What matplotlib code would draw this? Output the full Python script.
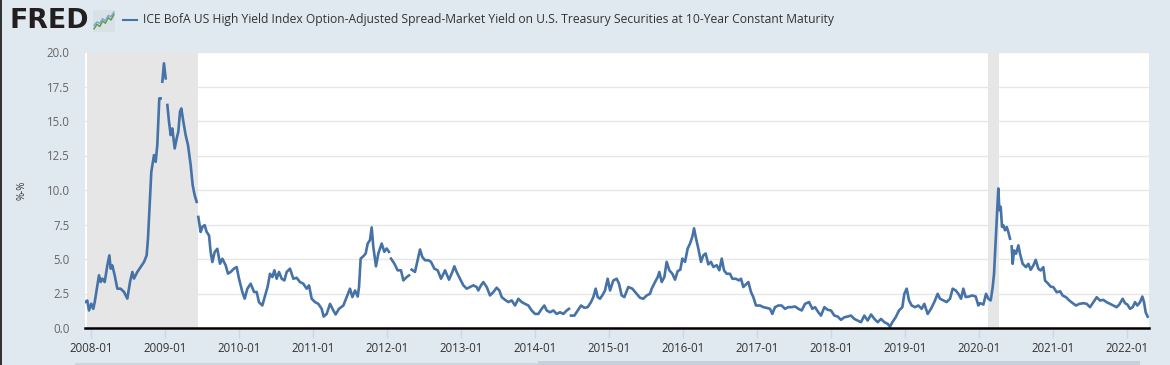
import numpy as np
import matplotlib
matplotlib.use("Agg")
import matplotlib.pyplot as plt
from matplotlib.lines import Line2D
from matplotlib.patches import Rectangle

nan = np.nan

# decimal year, spread (%); nan = missing obs (gap in line)
years = [
    2007.919, 2007.950, 2007.973, 2008.004, 2008.031, 2008.050, 2008.086, 2008.108, 2008.131, 2008.153,
    2008.185, 2008.221, 2008.248, 2008.266, 2008.288, 2008.320, 2008.356, 2008.401, 2008.446, 2008.491,
    2008.527, 2008.559, 2008.581, 2008.626, 2008.671, 2008.716, 2008.752, 2008.770, 2008.793, 2008.815,
    2008.851, 2008.874, 2008.896, 2008.923, 2008.941, 2008.950, 2008.964, 2008.986, 2009.009, 2009.020,
    2009.032, 2009.054, 2009.077, 2009.099, 2009.131, 2009.158, 2009.180, 2009.203, 2009.221, 2009.248,
    2009.279, 2009.311, 2009.347, 2009.374, 2009.401, 2009.428, 2009.436, 2009.450, 2009.482, 2009.505,
    2009.536, 2009.563, 2009.595, 2009.617, 2009.640, 2009.671, 2009.707, 2009.743, 2009.775, 2009.820,
    2009.851, 2009.887, 2009.932, 2009.968, 2010.000, 2010.045, 2010.077, 2010.113, 2010.158, 2010.203,
    2010.239, 2010.270, 2010.315,
    2010.387, 2010.419, 2010.451, 2010.478, 2010.509, 2010.541, 2010.577, 2010.613, 2010.644, 2010.689,
    2010.734, 2010.779, 2010.824, 2010.869, 2010.914, 2010.946, 2010.982, 2011.027, 2011.072, 2011.117,
    2011.144, 2011.185, 2011.230, 2011.275, 2011.306, 2011.351, 2011.410, 2011.455, 2011.500, 2011.532,
    2011.568, 2011.604, 2011.622, 2011.644, 2011.680, 2011.712, 2011.739, 2011.770, 2011.793, 2011.815,
    2011.851, 2011.883, 2011.928, 2011.964, 2011.995, 2012.027, 2012.040, 2012.054, 2012.099, 2012.144,
    2012.189, 2012.221, 2012.266, 2012.297, 2012.315, 2012.333, 2012.378, 2012.414, 2012.446, 2012.477,
    2012.514, 2012.559, 2012.595, 2012.640, 2012.685, 2012.730, 2012.775,
    2012.784, 2012.838, 2012.883, 2012.910, 2012.941, 2012.986, 2013.032, 2013.077, 2013.122, 2013.167,
    2013.212, 2013.234, 2013.270, 2013.302, 2013.347, 2013.392, 2013.437, 2013.482, 2013.518, 2013.550,
    2013.595, 2013.640, 2013.685, 2013.730, 2013.775, 2013.820, 2013.865, 2013.910, 2013.955, 2014.000,
    2014.045, 2014.090, 2014.126, 2014.158, 2014.203, 2014.248, 2014.293, 2014.338, 2014.383, 2014.428,
    2014.459, 2014.472, 2014.486, 2014.532, 2014.577, 2014.622, 2014.667, 2014.712, 2014.757, 2014.788,
    2014.820, 2014.847, 2014.878, 2014.910, 2014.946, 2014.982, 2015.014, 2015.059, 2015.104, 2015.135,
    2015.171, 2015.207,
    2015.216, 2015.261, 2015.315, 2015.374, 2015.419, 2015.464, 2015.509, 2015.554, 2015.577, 2015.622,
    2015.658, 2015.680, 2015.712, 2015.748, 2015.779, 2015.815, 2015.856, 2015.892, 2015.928, 2015.964,
    2015.991, 2016.027, 2016.063, 2016.095, 2016.126, 2016.149, 2016.176, 2016.207, 2016.243, 2016.275,
    2016.306, 2016.342, 2016.378, 2016.410, 2016.455, 2016.491, 2016.523, 2016.554, 2016.590, 2016.635,
    2016.667, 2016.712, 2016.757, 2016.784, 2016.815, 2016.860, 2016.883, 2016.919, 2016.950, 2016.986,
    2017.041, 2017.086, 2017.131, 2017.176, 2017.207, 2017.243, 2017.288, 2017.333, 2017.378, 2017.423,
    2017.468, 2017.514, 2017.559, 2017.604,
    2017.649, 2017.703, 2017.748, 2017.784, 2017.829, 2017.865, 2017.910, 2017.955, 2018.000, 2018.045,
    2018.090, 2018.135, 2018.180, 2018.225, 2018.270, 2018.315, 2018.360, 2018.405, 2018.450, 2018.495,
    2018.541, 2018.586, 2018.631, 2018.676, 2018.721, 2018.766, 2018.797, 2018.829, 2018.874, 2018.919,
    2018.964, 2018.991, 2019.023, 2019.054, 2019.090, 2019.135, 2019.180, 2019.225, 2019.261, 2019.306,
    2019.351, 2019.396, 2019.441, 2019.473, 2019.518, 2019.563, 2019.608, 2019.644, 2019.685, 2019.721,
    2019.757, 2019.788, 2019.820, 2019.865, 2019.910, 2019.955, 2019.991,
    2020.014, 2020.059, 2020.095, 2020.126, 2020.158, 2020.185, 2020.203, 2020.225, 2020.248, 2020.261,
    2020.275, 2020.293, 2020.311, 2020.329, 2020.351, 2020.374, 2020.396, 2020.419, 2020.430, 2020.441,
    2020.455, 2020.473, 2020.500, 2020.532, 2020.554, 2020.590, 2020.635, 2020.667, 2020.698, 2020.734,
    2020.766, 2020.802, 2020.833, 2020.869, 2020.892, 2020.937, 2020.968, 2021.005, 2021.050, 2021.095,
    2021.131, 2021.176, 2021.221, 2021.266, 2021.311, 2021.356, 2021.410, 2021.455, 2021.500, 2021.545,
    2021.590, 2021.635, 2021.680, 2021.725, 2021.770, 2021.815, 2021.860, 2021.896, 2021.941, 2021.973,
    2022.005, 2022.041, 2022.077, 2022.108, 2022.140, 2022.176, 2022.207, 2022.230, 2022.252, 2022.279,
]
spread = [
    1.87, 1.99, 1.27, 1.76, 1.39, 1.87, 3.09, 3.82, 3.33, 3.58,
    3.33, 4.54, 5.26, 4.30, 4.54, 3.82, 2.85, 2.85, 2.61, 2.13,
    3.33, 4.06, 3.58, 4.06, 4.42, 4.78, 5.26, 6.47, 8.89, 11.31,
    12.53, 12.04, 13.25, 16.64, 16.64, nan, 17.85, 19.18, 18.09, nan,
    16.16, 14.95, 13.98, 14.46, 13.01, 13.74, 14.22, 15.67, 15.91, 14.95,
    13.98, 13.25, 11.80, 10.35, 9.62, 9.14, nan, 8.05, 6.96, 7.33,
    7.45, 6.96, 6.71, 5.50, 4.78, 5.50, 5.74, 4.66, 5.02, 4.54,
    3.94, 4.06, 4.30, 4.42, 3.58, 2.61, 2.13, 2.85, 3.21, 2.61,
    2.61, 1.87, 1.63,
    3.00, 3.93, 3.69, 4.18, 3.57, 4.06, 3.57, 3.45, 4.06, 4.30,
    3.57, 3.64, 3.33, 3.21, 2.85, 3.09, 2.12, 1.88, 1.75, 1.39,
    0.83, 1.02, 1.75, 1.27, 0.98, 1.39, 1.63, 2.24, 2.85, 2.24,
    2.72, 2.28, 2.97, 5.03, 5.20, 5.40, 6.12, 6.37, 7.29, 5.88,
    4.47, 5.40, 6.12, 5.52, 5.76, 5.52, nan, 5.03, 4.67, 4.18,
    4.18, 3.45, 3.69, 3.81, nan, 4.23, 4.06, 4.91, 5.69, 5.15,
    4.91, 4.91, 4.79, 4.30, 4.18, 3.57, 4.06,
    4.18, 3.50, 4.06, 4.47, 4.06, 3.57, 3.09, 2.85, 2.97, 3.09,
    2.97, 2.72, 3.09, 3.33, 2.97, 2.36, 2.60, 2.92, 2.72, 2.24,
    2.04, 1.88, 2.00, 1.63, 2.12, 1.88, 1.75, 1.63, 1.27, 1.02,
    1.02, 1.39, 1.63, 1.27, 1.14, 1.27, 1.02, 1.14, 1.02, 1.27,
    1.39, nan, 0.90, 0.90, 1.27, 1.63, 1.46, 1.51, 1.88, 2.24,
    2.85, 2.24, 2.12, 2.36, 2.72, 3.57, 2.72, 3.45, 3.57, 3.21,
    2.36, 2.24,
    2.36, 2.97, 2.85, 2.48, 2.19, 2.12, 2.36, 2.48, 2.85, 3.33,
    3.69, 4.06, 3.33, 3.69, 4.79, 4.18, 3.93, 3.50, 4.12, 4.23,
    5.03, 4.79, 5.76, 6.12, 6.61, 7.22, 6.49, 5.76, 4.79, 5.27,
    5.40, 4.61, 4.79, 4.42, 4.55, 4.18, 5.03, 4.18, 3.93, 3.93,
    3.57, 3.57, 3.45, 3.57, 2.97, 3.21, 3.33, 2.60, 2.24, 1.63,
    1.63, 1.51, 1.46, 1.39, 1.02, 1.51, 1.63, 1.63, 1.39, 1.51,
    1.51, 1.56, 1.39, 1.27,
    1.75, 1.88, 1.39, 1.51, 1.14, 0.90, 1.51, 1.32, 1.27, 0.90,
    0.83, 0.59, 0.78, 0.83, 0.90, 0.66, 0.54, 0.42, 0.90, 0.54,
    0.98, 0.66, 0.42, 0.66, 0.42, 0.30, 0.10, 0.42, 0.78, 1.27,
    1.51, 2.48, 2.85, 2.00, 1.63, 1.51, 1.63, 1.39, 1.75, 1.02,
    1.39, 1.88, 2.48, 2.12, 2.00, 1.88, 2.12, 2.85, 2.72, 2.48,
    2.12, 2.85, 2.24, 2.28, 2.36, 2.28, 1.63,
    1.80, 1.70, 2.48, 2.12, 2.00, 2.97, 3.93, 6.35, 8.78, 10.11,
    8.54, 8.78, 7.32, 7.44, 7.08, 7.32, 6.96, 6.47, nan, 5.91,
    4.65, 5.62, 5.38, 5.99, 5.38, 4.65, 4.41, 4.65, 4.22, 4.53,
    4.94, 4.29, 4.17, 4.41, 3.44, 3.20, 3.00, 2.96, 2.59, 2.66,
    2.35, 2.23, 1.99, 1.80, 1.63, 1.75, 1.80, 1.75, 1.51, 1.87,
    2.23, 1.99, 2.04, 1.87, 1.75, 1.63, 1.51, 1.70, 2.12, 1.80,
    1.70, 1.39, 1.51, 1.87, 1.63, 1.87, 2.28, 1.87, 1.14, 0.82,
]

recessions = [(2007.95, 2009.45), (2020.12, 2020.27)]
tick_years = list(range(2008, 2023))
tick_labels = [f"{y}-01" for y in tick_years]
y_ticks = [0, 2.5, 5, 7.5, 10, 12.5, 15, 17.5, 20]

# squiggles for the little chart icon next to the FRED logo
icon_green = [0.15, 0.35, 0.25, 0.5, 0.4, 0.65, 0.55, 0.8]
icon_blue = [0.3, 0.45, 0.4, 0.6, 0.5, 0.75, 0.7, 0.9]

title = ("ICE BofA US High Yield Index Option-Adjusted Spread-Market Yield "
         "on U.S. Treasury Securities at 10-Year Constant Maturity")

W, H = 1170, 365
BG = "#e1e9f0"
LINE = "#4572a7"
plt.rcParams["font.family"] = ["Open Sans", "DejaVu Sans"]

fig = plt.figure(figsize=(W / 100, H / 100), dpi=100, facecolor=BG)

def px(x, y):
    return x / W, 1 - y / H

ax = fig.add_axes([85 / W, 1 - 328 / H, (1149 - 85) / W, (328 - 52) / H])
ax.set_facecolor("white")
for s0, s1 in recessions:
    ax.axvspan(s0, s1, color="#e6e6e6", lw=0, zorder=1)
ax.plot(years, spread, color=LINE, lw=1.9, zorder=3, solid_joinstyle="round")

ax.set_xlim(2007.919, 2022.297)
ax.set_ylim(0, 20)
ax.set_xticks(tick_years)
ax.set_xticklabels(tick_labels)
ax.set_yticks(y_ticks)
ax.set_yticklabels([f"{v:.1f}" for v in y_ticks])
ax.set_axisbelow(True)
ax.yaxis.grid(True, color="#e6e6e6", lw=1)
for side in ["top", "right", "left"]:
    ax.spines[side].set_visible(False)
ax.spines["bottom"].set_color("black")
ax.spines["bottom"].set_linewidth(1.8)
ax.spines["bottom"].set_zorder(4)
ax.tick_params(axis="y", length=0, pad=11, labelsize=8.3, labelcolor="#666666")
ax.tick_params(axis="x", length=7, width=1, color="#ccd6eb", pad=3,
               labelsize=8.3, labelcolor="#333333")

# y label
fig.text(*px(22, 190), "%-%", rotation=90, ha="center", va="center",
         fontsize=7, color="#333333")

# header: FRED logo, icon, legend
fig.text(*px(9, 21), "FRED", fontsize=19.3, fontweight="bold", color="#231f20",
         ha="left", va="center", family=["DejaVu Sans"])
iax = fig.add_axes([93 / W, 1 - 32 / H, 22 / W, 22 / H])
iax.set_facecolor("#d9e0e6")
iax.plot(np.linspace(0.05, 0.95, len(icon_green)), icon_green, color="#5e9e4a", lw=1.1)
iax.plot(np.linspace(0.05, 0.95, len(icon_blue)), icon_blue, color="#7fa6cf", lw=1.1)
iax.set_xlim(0, 1)
iax.set_ylim(0, 1)
iax.set_xticks([])
iax.set_yticks([])
for s in iax.spines.values():
    s.set_visible(False)

fig.add_artist(Line2D([123 / W, 137 / W], [1 - 20 / H, 1 - 20 / H], color=LINE, lw=1.5))
fig.text(*px(143, 20), title, fontsize=8.7, color="#333333", ha="left", va="center")

# frame bits: dark left border, bottom navigator strip
fig.add_artist(Rectangle((0, 0), 2 / W, 1, transform=fig.transFigure, color="#333333", lw=0))
fig.add_artist(Line2D([76 / W, 538 / W], [1 - 364 / H] * 2, color="#cdd5de", lw=1.5))
fig.add_artist(Rectangle((538 / W, 0), (1140 - 538) / W, 4 / H, transform=fig.transFigure,
                         color="#c6d0da", lw=0))

fig.savefig("out.png", dpi=100, facecolor=BG)
